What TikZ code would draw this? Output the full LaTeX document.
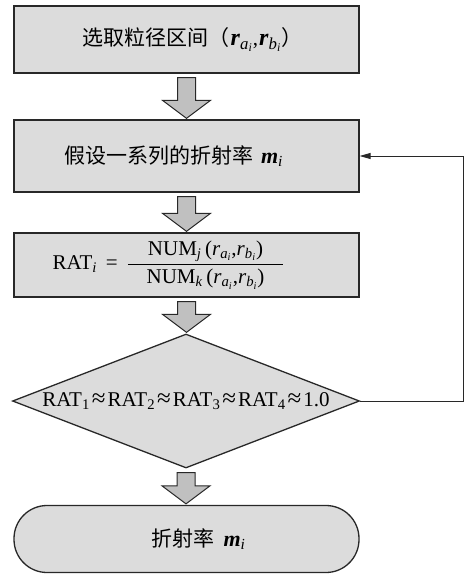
\documentclass[tikz,border=0pt]{standalone}
\usepackage{fontspec}
\setmainfont{Liberation Serif}
\newfontfamily\cjk{Noto Sans CJK SC}
\usetikzlibrary{calc,shapes.geometric,arrows.meta}
\newcommand{\rab}[1]{{\fontsize{24}{26}\selectfont\textbf{\textit{r}}\textsubscript{\textit{#1}\textsubscript{\textit{i}}}}}
\newcommand{\rabn}[1]{\textit{r}\textsubscript{\textit{#1}\textsubscript{\textit{i}}}}
\newcommand{\mrate}{{\fontsize{22}{24}\selectfont\textbf{\textit{m}}\textsubscript{\textit{i}}}}
\newcommand{\apx}{\hspace{2pt}{\fontsize{25}{24}\selectfont≈}\hspace{2pt}}
\newcommand{\cjkt}[1]{{\cjk\fontsize{21}{24}\selectfont #1}}
\newcommand{\padr}[1]{\kern#1\null}
\newcommand{\blkarrow}[2]{%
  \draw[blk] let \p1=(#1.south), \p2=(#2.north) in
    (\x1-9pt,\y1-4pt) -- (\x1+9pt,\y1-4pt) -- (\x1+9pt,\y2+19pt) -- (\x1+24pt,\y2+19pt)
    -- (\x1,\y2+1pt) -- (\x1-24pt,\y2+19pt) -- (\x1-9pt,\y2+19pt) -- cycle;}
\definecolor{boxfill}{RGB}{220,220,220}
\definecolor{arrfill}{RGB}{192,192,192}
\definecolor{edge}{RGB}{40,40,40}
\begin{document}
\begin{tikzpicture}[x=1pt,y=-1pt,
  every node/.style={font=\fontsize{21}{24}\selectfont},
  procbox/.style={draw=edge, line width=1.3pt, fill=boxfill, minimum width=345pt, inner sep=0pt},
  decide/.style={draw=edge, line width=1.3pt, fill=boxfill, diamond, aspect=2.6, minimum width=347pt, minimum height=134pt, inner sep=0pt},
  endbox/.style={draw=edge, line width=1.3pt, fill=boxfill, rounded corners=33pt, minimum width=345pt, minimum height=67pt, inner sep=0pt},
  blk/.style={draw=edge, line width=1pt, fill=arrfill, line join=miter},
  fb/.style={draw=edge, line width=0.9pt, -{Triangle[length=11pt,width=6pt]}}]
\useasboundingbox (0,0) rectangle (469,574);
\node[procbox, minimum height=67pt] (b1) at (186.5,39.5) {\hspace{12pt}\cjkt{选取粒径区间（}\hspace{1pt}\rab{a},\hspace{1pt}\rab{b}\cjkt{）}};
\node[procbox, minimum height=72pt] (b2) at (186.5,156) {\cjkt{假设一系列的折射率}\hspace{8pt}\mrate\padr{26pt}};
\node[procbox, minimum height=64pt] (b3) at (186.5,265) {RAT\textsubscript{\textit{i}}\hspace{9pt}=\hspace{9pt}$\displaystyle\frac{\hspace{20pt}\mbox{NUM\textsubscript{\textit{j}}\,(\rabn{a},\rabn{b})}\hspace{20pt}}{\mbox{NUM\textsubscript{\textit{k}}\,(\rabn{a},\rabn{b})}}$\padr{36pt}};
\node[decide] (d) at (186,401) {RAT\textsubscript{1}\apx RAT\textsubscript{2}\apx RAT\textsubscript{3}\apx RAT\textsubscript{4}\apx 1.0};
\node[endbox] (e) at (186.5,539) {\hspace{24pt}\cjkt{折射率}\hspace{9pt}\mrate};
\blkarrow{b1}{b2}
\blkarrow{b2}{b3}
\blkarrow{b3}{d}
\blkarrow{d}{e}
\coordinate (fbx) at (463,0);
\draw[fb] (d.east) -- (d.east -| fbx) |- (b2.east);
\end{tikzpicture}
\end{document}
